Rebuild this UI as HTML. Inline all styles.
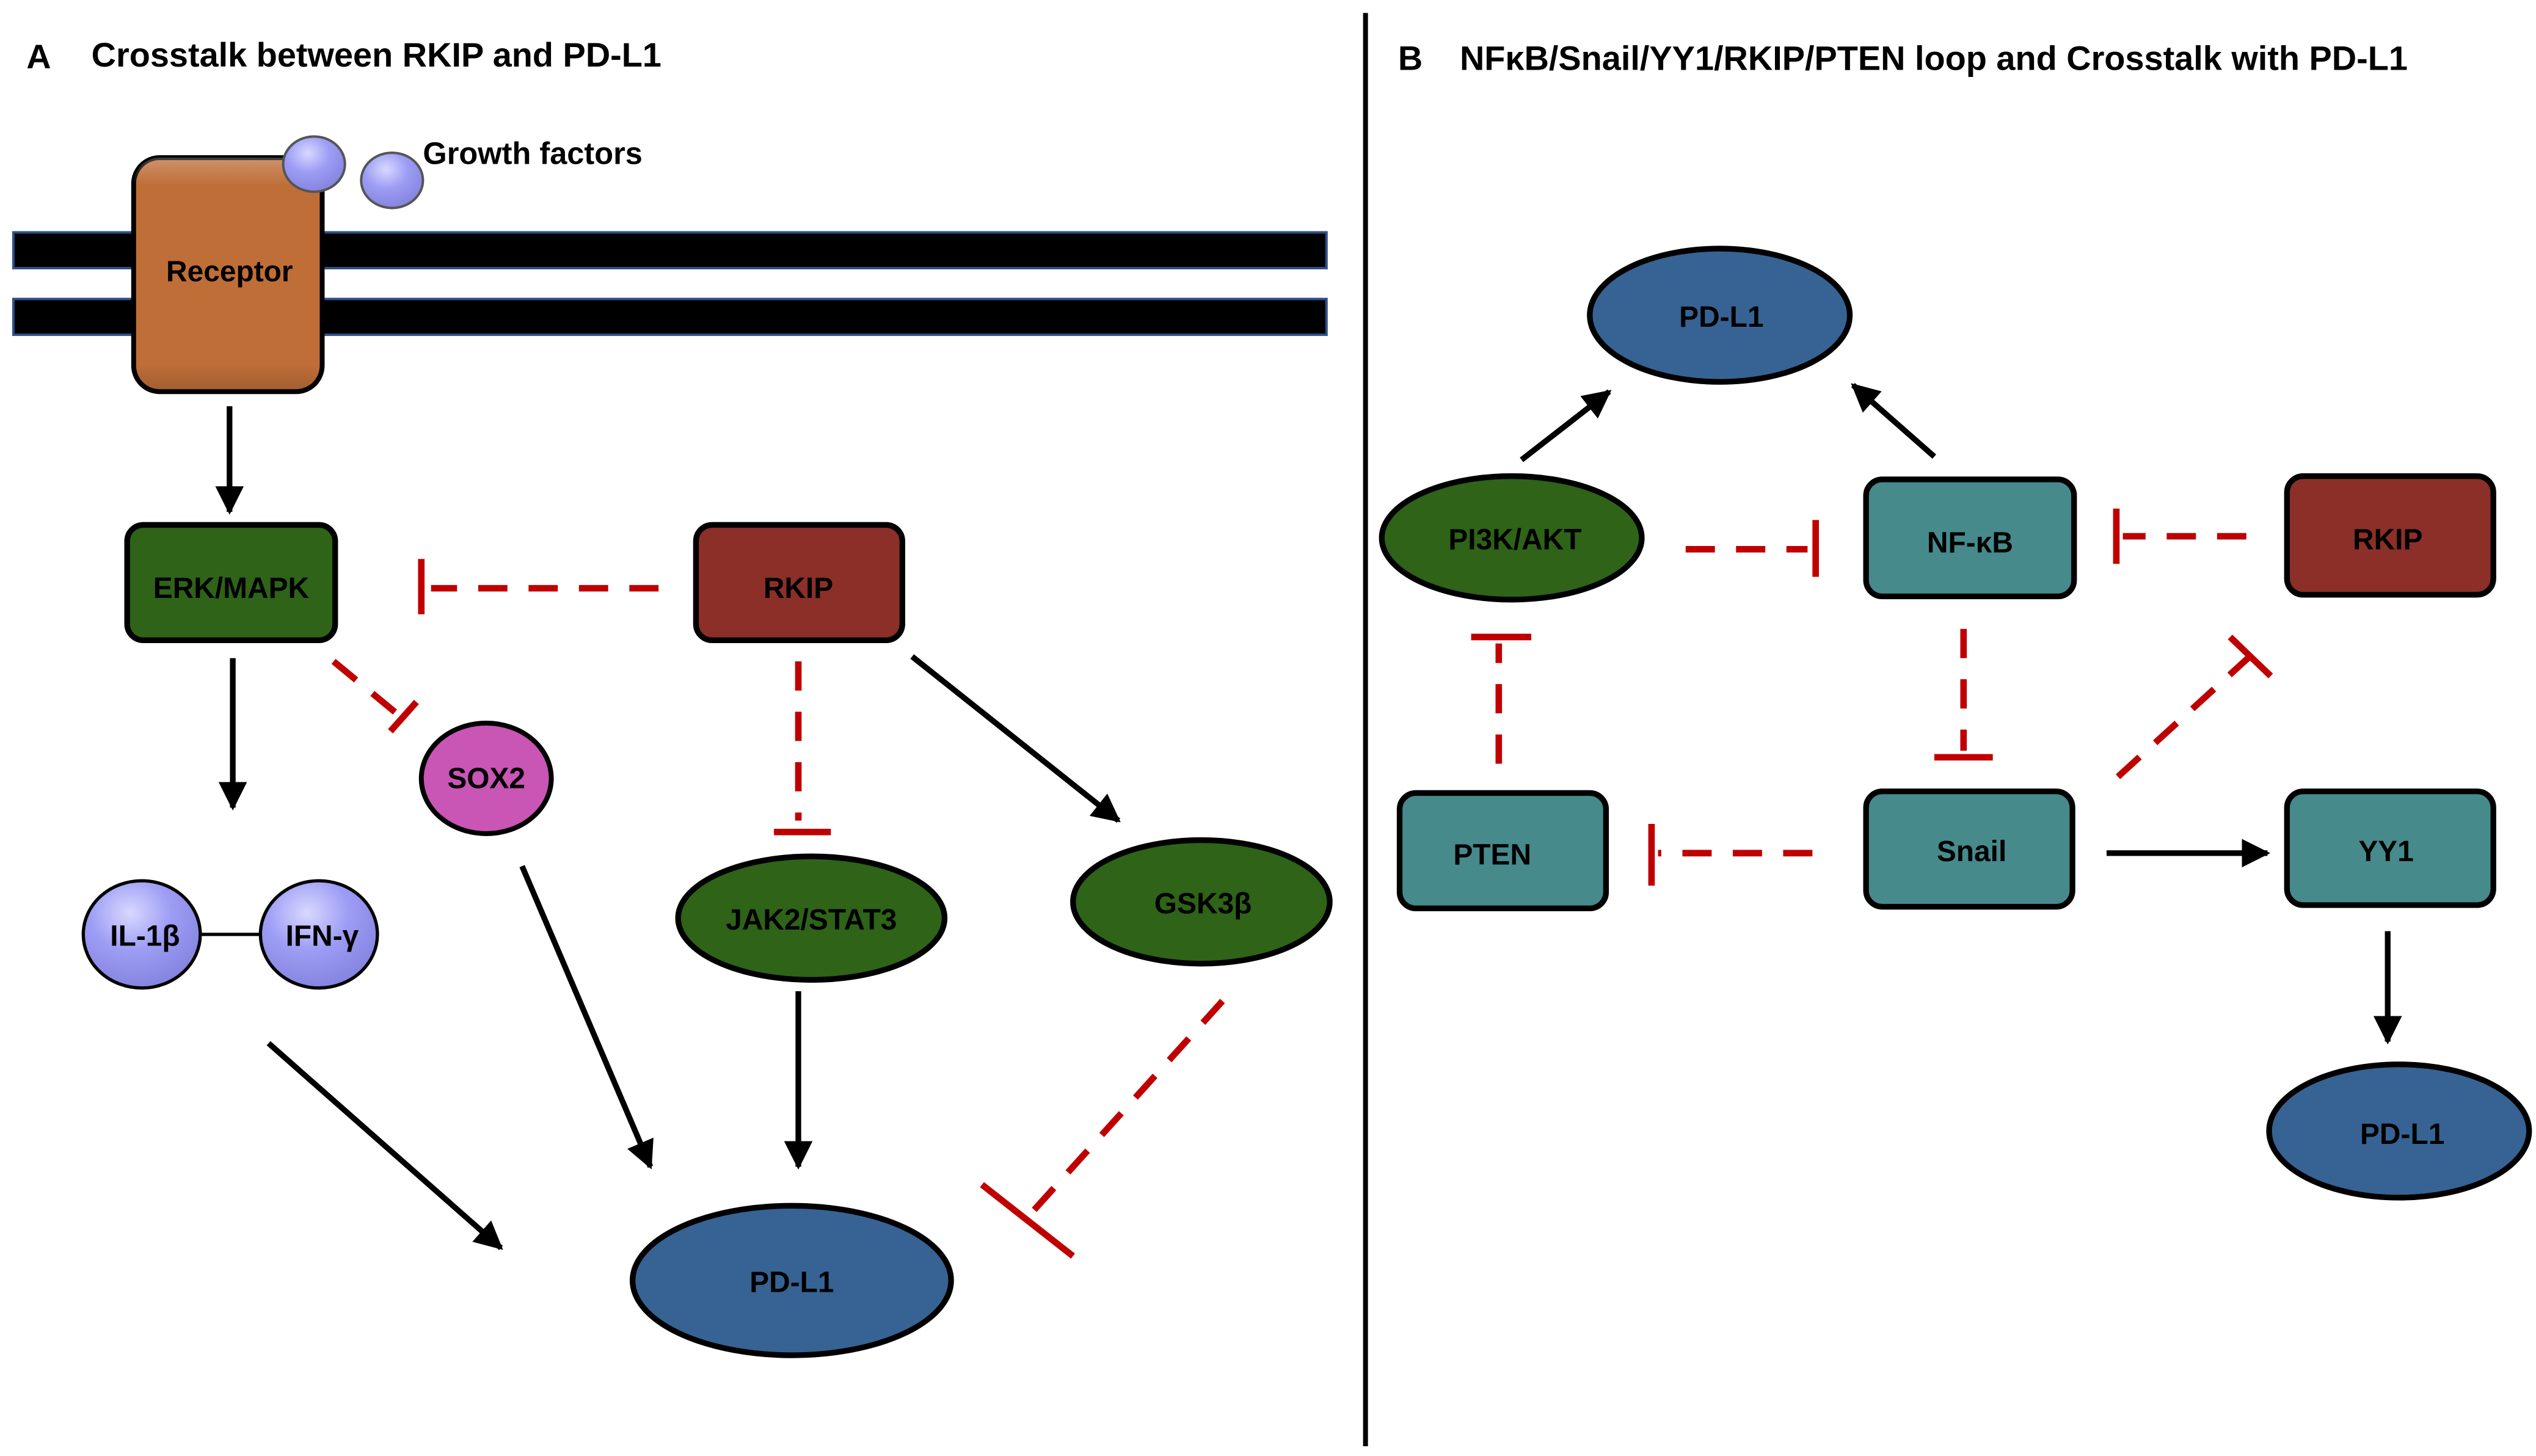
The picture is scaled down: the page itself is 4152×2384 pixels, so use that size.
<!DOCTYPE html>
<html><head><meta charset="utf-8"><style>
html,body{margin:0;padding:0;background:#fff;}
svg{display:block;}
text{font-family:"Liberation Sans",sans-serif;font-weight:bold;fill:#000;}
</style></head><body>
<svg width="4152" height="2384" viewBox="0 0 1560 896" xmlns="http://www.w3.org/2000/svg">
<defs>
<linearGradient id="sh" x1="0" y1="0" x2="0" y2="1">
<stop offset="0" stop-color="#fff" stop-opacity="0.25"/>
<stop offset="0.12" stop-color="#fff" stop-opacity="0"/>
<stop offset="0.88" stop-color="#000" stop-opacity="0"/>
<stop offset="1" stop-color="#000" stop-opacity="0.15"/>
</linearGradient>
<radialGradient id="bub" cx="0.4" cy="0.3" r="0.7">
<stop offset="0" stop-color="#d8d8ff"/><stop offset="0.5" stop-color="#9d9df5"/><stop offset="1" stop-color="#8585e0"/>
</radialGradient>
<marker id="ar" viewBox="0 0 10 10" refX="9" refY="5" markerWidth="5" markerHeight="5" orient="auto" markerUnits="strokeWidth">
<path d="M0,0 L10,5 L0,10 z" fill="#000"/></marker>
</defs>
<g stroke="#000" stroke-width="3">
<rect x="8" y="143" width="808" height="22" fill="#000" stroke="#2f4f8a" stroke-width="1.5"/>
<rect x="8" y="184" width="808" height="22" fill="#000" stroke="#2f4f8a" stroke-width="1.5"/>
<rect x="82" y="97" width="116" height="144" rx="16" fill="#bf6e38"/>
<rect x="82" y="97" width="116" height="144" rx="16" fill="url(#sh)" stroke="none"/>
<ellipse cx="193" cy="101" rx="19" ry="17" fill="url(#bub)" stroke="#555" stroke-width="1.5"/>
<ellipse cx="241" cy="111" rx="19" ry="17" fill="url(#bub)" stroke="#555" stroke-width="1.5"/>
</g>
<g stroke="#000" stroke-width="3.5">
<rect x="78" y="323" width="128" height="71" rx="10" fill="#2e6318"/>
<rect x="428" y="323" width="127" height="71" rx="10" fill="#8b2f28"/>
<ellipse cx="299" cy="479" rx="40" ry="34" fill="#c955b5" stroke-width="3"/>
<ellipse cx="87" cy="575" rx="36" ry="33" fill="url(#bub)" stroke-width="2"/>
<ellipse cx="196" cy="575" rx="36" ry="33" fill="url(#bub)" stroke-width="2"/>
<ellipse cx="499" cy="565" rx="82" ry="38" fill="#2e6318"/>
<ellipse cx="739" cy="555" rx="79" ry="38" fill="#2e6318"/>
<ellipse cx="487" cy="788" rx="98" ry="46" fill="#366393"/>
<ellipse cx="1058" cy="194" rx="80" ry="41" fill="#366393"/>
<ellipse cx="930" cy="331" rx="80" ry="38" fill="#2e6318"/>
<rect x="1148" y="295" width="128" height="72" rx="10" fill="#468a8c"/>
<rect x="1407" y="293" width="127" height="73" rx="10" fill="#8b2f28"/>
<rect x="861" y="488" width="127" height="71" rx="10" fill="#468a8c"/>
<rect x="1148" y="487" width="127" height="71" rx="10" fill="#468a8c"/>
<rect x="1407" y="487" width="127" height="70" rx="10" fill="#468a8c"/>
<ellipse cx="1476" cy="696" rx="80" ry="41" fill="#366393"/>
</g>
<line x1="123" y1="575" x2="160" y2="575" stroke="#000" stroke-width="2"/>
<g stroke="#000" stroke-width="3.5" fill="none" marker-end="url(#ar)">
<line x1="141" y1="250" x2="141" y2="315"/>
<line x1="143" y1="405" x2="143" y2="497"/>
<line x1="561" y1="404" x2="688" y2="505"/>
<line x1="491" y1="610" x2="491" y2="718"/>
<line x1="321" y1="533" x2="400" y2="718"/>
<line x1="165" y1="642" x2="308" y2="768"/>
<line x1="936" y1="283" x2="990" y2="241"/>
<line x1="1190" y1="281" x2="1140" y2="237"/>
<line x1="1296" y1="525" x2="1395" y2="525"/>
<line x1="1469" y1="573" x2="1469" y2="641"/>
</g>
<g stroke="#c00000" stroke-width="4" fill="none">
<g stroke-dasharray="18,13">
<line x1="405" y1="362" x2="265" y2="362"/>
<line x1="205" y1="407" x2="245" y2="440"/>
<line x1="491" y1="407" x2="491" y2="505"/>
<line x1="752" y1="616" x2="633" y2="748"/>
<line x1="1037" y1="338" x2="1112" y2="338"/>
<line x1="1382" y1="330" x2="1306" y2="330"/>
<line x1="1208" y1="387" x2="1208" y2="462"/>
<line x1="922" y1="470" x2="922" y2="396"/>
<line x1="1115" y1="525" x2="1020" y2="525"/>
<line x1="1303" y1="478" x2="1383" y2="405"/>
</g>
<line x1="259" y1="344" x2="259" y2="378"/>
<line x1="240" y1="450" x2="256" y2="432"/>
<line x1="476" y1="512" x2="511" y2="512"/>
<line x1="604" y1="729" x2="660" y2="773"/>
<line x1="1117" y1="320" x2="1117" y2="355"/>
<line x1="1302" y1="313" x2="1302" y2="347"/>
<line x1="1190" y1="466" x2="1226" y2="466"/>
<line x1="905" y1="392" x2="942" y2="392"/>
<line x1="1016" y1="507" x2="1016" y2="545"/>
<line x1="1372" y1="392" x2="1397" y2="416"/>
</g>
<line x1="840" y1="8" x2="840" y2="890" stroke="#000" stroke-width="3"/>
<g font-size="21">
<text x="16" y="42">A</text>
<text x="56" y="41">Crosstalk between RKIP and PD-L1</text>
<text x="860" y="43">B</text>
<text x="898" y="43">NFκB/Snail/YY1/RKIP/PTEN loop and Crosstalk with PD-L1</text>
</g>
<text x="260" y="101" font-size="19">Growth factors</text>
<g font-size="18" text-anchor="middle">
<text x="141" y="173">Receptor</text>
<text x="142" y="368">ERK/MAPK</text>
<text x="491" y="368">RKIP</text>
<text x="299" y="485">SOX2</text>
<text x="89" y="582">IL-1β</text>
<text x="198" y="582">IFN-γ</text>
<text x="499" y="572">JAK2/STAT3</text>
<text x="740" y="562">GSK3β</text>
<text x="487" y="795">PD-L1</text>
<text x="1059" y="201">PD-L1</text>
<text x="932" y="338">PI3K/AKT</text>
<text x="1212" y="340">NF-κB</text>
<text x="1469" y="338">RKIP</text>
<text x="918" y="532">PTEN</text>
<text x="1213" y="530">Snail</text>
<text x="1468" y="530">YY1</text>
<text x="1478" y="704">PD-L1</text>
</g>
</svg>
</body></html>
